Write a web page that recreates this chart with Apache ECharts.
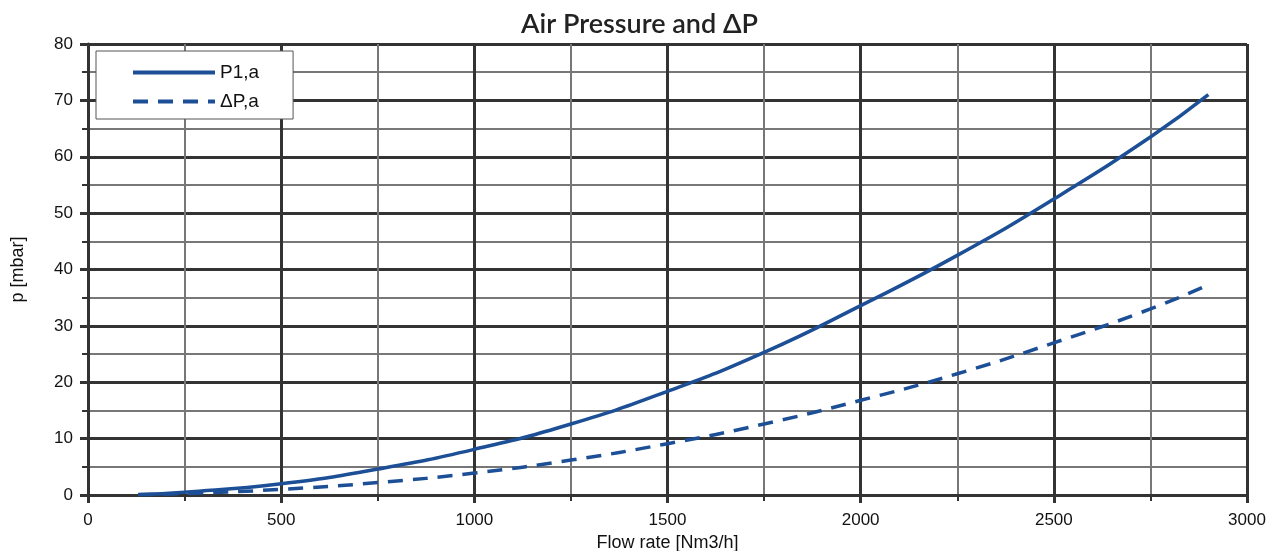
<!DOCTYPE html>
<html lang="en">
<head>
<meta charset="UTF-8">
<title>Air Pressure and ΔP</title>
<script src="https://cdn.jsdelivr.net/npm/echarts@6/dist/echarts.min.js"></script>
<style>
  html, body { margin: 0; padding: 0; background: #fff; }
  #main { width: 1279px; height: 551px; }
</style>
</head>
<body>
<div id="main"></div>
<script>
// flow rate [Nm3/h] and pressures [mbar]
var flow = [130, 250, 500, 750, 1000, 1250, 1500, 1750, 2000, 2250, 2500, 2750, 2900];
var p1 = [0.1, 0.5, 2.0, 4.6, 8.1, 12.6, 18.4, 25.3, 33.6, 42.5, 52.5, 63.5, 71.0];
var dp = [0.05, 0.25, 1.0, 2.2, 3.9, 6.2, 9.1, 12.6, 16.8, 21.5, 27.0, 33.0, 37.3];

function pairs(xs, ys) {
  var out = [];
  for (var i = 0; i < xs.length; i++) out.push([xs[i], ys[i]]);
  return out;
}

var blue = '#1c4f96';
var chart = echarts.init(document.getElementById('main'));

var axisCommon = {
  axisLine: { show: true, lineStyle: { color: '#333', width: 3 } },
  axisTick: { show: true, length: 8, lineStyle: { color: '#333', width: 3 } },
  minorTick: { show: true, splitNumber: 2, length: 6, lineStyle: { color: '#333', width: 2 } },
  splitLine: { show: true, lineStyle: { color: '#333', width: 3 } },
  minorSplitLine: { show: true, lineStyle: { color: '#777', width: 2 } },
  nameTextStyle: { color: '#111', fontSize: 18, fontFamily: 'Liberation Sans' }
};

chart.setOption({
  animation: false,
  title: {
    text: 'Air Pressure and ΔP',
    left: 'center',
    top: 6,
    textStyle: { fontSize: 27, fontWeight: 600, color: '#222', fontFamily: 'Lato' }
  },
  legend: {
    left: 96,
    top: 51,
    orient: 'vertical',
    padding: [12, 34, 8, 35],
    itemGap: 10,
    itemWidth: 82,
    itemHeight: 14,
    backgroundColor: '#fff',
    borderColor: '#555',
    borderWidth: 1,
    borderRadius: 0,
    itemStyle: { opacity: 0 },
    lineStyle: { width: 4 },
    textStyle: { fontSize: 19, color: '#111', fontFamily: 'Liberation Sans' },
    data: ['P1,a', 'ΔP,a']
  },
  grid: { left: 88, right: 32, top: 44, bottom: 56, containLabel: false, outerBoundsMode: 'none' },
  xAxis: Object.assign({}, axisCommon, {
    type: 'value',
    min: 0, max: 3000, interval: 500,
    name: 'Flow rate [Nm3/h]',
    nameLocation: 'middle',
    nameGap: 39,
    axisLabel: { color: '#111', fontSize: 17, fontFamily: 'Liberation Sans', margin: 17,
      formatter: function (v) { return String(v); } }
  }),
  yAxis: Object.assign({}, axisCommon, {
    type: 'value',
    min: 0, max: 80, interval: 10,
    name: 'p [mbar]',
    nameLocation: 'middle',
    nameGap: 61,
    axisLabel: { color: '#111', fontSize: 17, fontFamily: 'Liberation Sans', margin: 15 }
  }),
  series: [
    {
      name: 'P1,a',
      type: 'line',
      smooth: true,
      symbol: 'none',
      lineStyle: { color: blue, width: 3.5 },
      itemStyle: { color: blue },
      data: pairs(flow, p1)
    },
    {
      name: 'ΔP,a',
      type: 'line',
      smooth: true,
      symbol: 'none',
      lineStyle: { color: blue, width: 3.5, type: [15, 10] },
      itemStyle: { color: blue },
      data: pairs(flow, dp)
    }
  ]
});
</script>
</body>
</html>
